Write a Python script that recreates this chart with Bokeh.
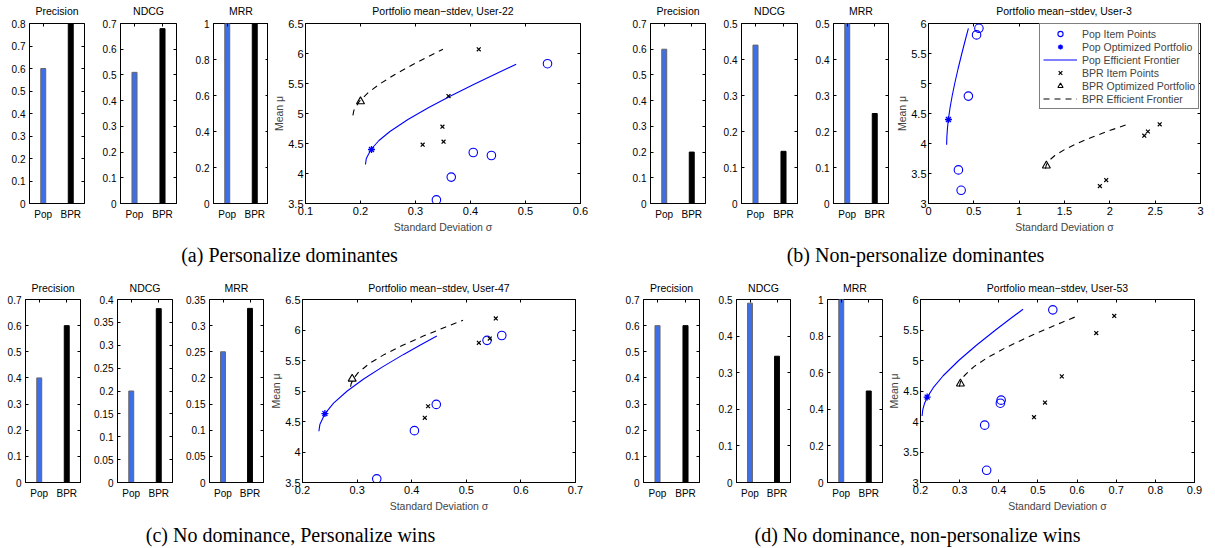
from bokeh.plotting import figure
from bokeh.layouts import row, column
from bokeh.models import (FactorRange, Range1d, LinearAxis, CategoricalAxis, FixedTicker,
                          CustomJSTickFormatter, Legend, LegendItem, Label)
from bokeh.embed import file_html
from bokeh.resources import INLINE

# ---------------- data ----------------
methods = ["Pop", "BPR"]
metrics = ["Precision", "NDCG", "MRR"]

# (a) User-22
a_precision = [0.6, 0.8]
a_ndcg = [0.51, 0.68]
a_mrr = [1.0, 1.0]
a_pop_sigma = [0.54, 0.405, 0.438, 0.365, 0.338]
a_pop_mu = [5.83, 4.35, 4.30, 3.94, 3.56]
a_pop_opt_sigma = [0.22]
a_pop_opt_mu = [4.40]
a_pop_front_sigma = [0.209, 0.2106, 0.219, 0.2336, 0.2535, 0.2862, 0.3241, 0.3655, 0.4094, 0.4550, 0.483]
a_pop_front_mu = [4.15, 4.25, 4.40, 4.55, 4.70, 4.90, 5.10, 5.30, 5.50, 5.70, 5.82]
a_bpr_sigma = [0.415, 0.36, 0.349, 0.351, 0.313]
a_bpr_mu = [6.07, 5.29, 4.78, 4.53, 4.48]
a_bpr_opt_sigma = [0.2]
a_bpr_opt_mu = [5.2]
a_bpr_front_sigma = [0.1862, 0.1879, 0.1976, 0.2141, 0.2363, 0.2626, 0.2920, 0.3236, 0.35]
a_bpr_front_mu = [4.97, 5.05, 5.20, 5.35, 5.50, 5.65, 5.80, 5.95, 6.07]

# (b) User-3
b_precision = [0.6, 0.2]
b_ndcg = [0.44, 0.145]
b_mrr = [0.5, 0.25]
b_pop_sigma = [0.556, 0.53, 0.44, 0.33, 0.36]
b_pop_mu = [5.92, 5.81, 4.79, 3.56, 3.22]
b_pop_opt_sigma = [0.22]
b_pop_opt_mu = [4.40]
b_pop_front_sigma = [0.2001, 0.2022, 0.2088, 0.219, 0.2382, 0.2619, 0.2892, 0.3270, 0.3676, 0.4102, 0.44]
b_pop_front_mu = [3.98, 4.10, 4.25, 4.40, 4.60, 4.80, 5.00, 5.25, 5.50, 5.75, 5.92]
b_bpr_sigma = [2.38, 2.42, 2.55, 1.89, 1.96]
b_bpr_mu = [4.13, 4.20, 4.32, 3.29, 3.39]
b_bpr_opt_sigma = [1.30]
b_bpr_opt_mu = [3.63]
b_bpr_front_sigma = [1.29, 1.3008, 1.333, 1.3939, 1.5013, 1.637, 1.7949, 1.9693, 2.195]
b_bpr_front_mu = [3.58, 3.65, 3.72, 3.80, 3.90, 4.00, 4.10, 4.20, 4.32]

# (c) User-47
c_precision = [0.4, 0.6]
c_ndcg = [0.2, 0.38]
c_mrr = [0.25, 0.333]
c_pop_sigma = [0.565, 0.538, 0.445, 0.405, 0.336]
c_pop_mu = [5.91, 5.83, 4.78, 4.35, 3.56]
c_pop_opt_sigma = [0.241]
c_pop_opt_mu = [4.63]
c_pop_front_sigma = [0.2300, 0.2318, 0.2413, 0.2569, 0.2819, 0.3126, 0.3474, 0.3852, 0.4151, 0.446]
c_pop_front_mu = [4.34, 4.45, 4.63, 4.80, 5.00, 5.20, 5.40, 5.60, 5.75, 5.90]
c_bpr_sigma = [0.554, 0.523, 0.543, 0.43, 0.424]
c_bpr_mu = [6.19, 5.79, 5.86, 4.75, 4.56]
c_bpr_opt_sigma = [0.291]
c_bpr_opt_mu = [5.2]
c_bpr_front_sigma = [0.2881, 0.2891, 0.2931, 0.3019, 0.3223, 0.3500, 0.3834, 0.4212, 0.4623, 0.494]
c_bpr_front_mu = [5.07, 5.12, 5.20, 5.30, 5.45, 5.60, 5.75, 5.90, 6.05, 6.16]

# (d) User-53
d_precision = [0.6, 0.6]
d_ndcg = [0.49, 0.345]
d_mrr = [1.0, 0.5]
d_pop_sigma = [0.538, 0.406, 0.404, 0.364, 0.369]
d_pop_mu = [5.83, 4.35, 4.30, 3.94, 3.20]
d_pop_opt_sigma = [0.217]
d_pop_opt_mu = [4.40]
d_pop_front_sigma = [0.2040, 0.2060, 0.2105, 0.2175, 0.2321, 0.2579, 0.2976, 0.3428, 0.3917, 0.4326, 0.462]
d_pop_front_mu = [4.09, 4.20, 4.30, 4.40, 4.55, 4.75, 5.00, 5.25, 5.50, 5.70, 5.84]
d_bpr_sigma = [0.695, 0.649, 0.561, 0.518, 0.490]
d_bpr_mu = [5.73, 5.45, 4.74, 4.31, 4.07]
d_bpr_opt_sigma = [0.302]
d_bpr_opt_mu = [4.62]
d_bpr_front_sigma = [0.2991, 0.3022, 0.3118, 0.3366, 0.3718, 0.4146, 0.4630, 0.5154, 0.5595, 0.605]
d_bpr_front_mu = [4.57, 4.65, 4.75, 4.90, 5.05, 5.20, 5.35, 5.50, 5.62, 5.74]

# y-axis tick labels of the bar charts
a_bar_ticks = [[0, 0.1, 0.2, 0.3, 0.4, 0.5, 0.6, 0.7, 0.8],
               [0, 0.1, 0.2, 0.3, 0.4, 0.5, 0.6, 0.7],
               [0, 0.2, 0.4, 0.6, 0.8, 1]]
b_bar_ticks = [[0, 0.1, 0.2, 0.3, 0.4, 0.5, 0.6, 0.7],
               [0, 0.1, 0.2, 0.3, 0.4, 0.5],
               [0, 0.1, 0.2, 0.3, 0.4, 0.5]]
c_bar_ticks = [[0, 0.1, 0.2, 0.3, 0.4, 0.5, 0.6, 0.7],
               [0, 0.05, 0.1, 0.15, 0.2, 0.25, 0.3, 0.35, 0.4],
               [0, 0.05, 0.1, 0.15, 0.2, 0.25, 0.3, 0.35]]
d_bar_ticks = [[0, 0.1, 0.2, 0.3, 0.4, 0.5, 0.6, 0.7],
               [0, 0.1, 0.2, 0.3, 0.4, 0.5],
               [0, 0.2, 0.4, 0.6, 0.8, 1]]

# scatter axis ticks
a_x_ticks = [0.1, 0.2, 0.3, 0.4, 0.5, 0.6]
a_y_ticks = [3.5, 4, 4.5, 5, 5.5, 6, 6.5]
b_x_ticks = [0, 0.5, 1, 1.5, 2, 2.5, 3]
b_y_ticks = [3, 3.5, 4, 4.5, 5, 5.5, 6]
c_x_ticks = [0.2, 0.3, 0.4, 0.5, 0.6, 0.7]
c_y_ticks = [3.5, 4, 4.5, 5, 5.5, 6, 6.5]
d_x_ticks = [0.2, 0.3, 0.4, 0.5, 0.6, 0.7, 0.8, 0.9]
d_y_ticks = [3, 3.5, 4, 4.5, 5, 5.5, 6]

users = ["User-22", "User-3", "User-47", "User-53"]
captions = ["(a) Personalize dominantes", "(b) Non-personalize dominantes",
            "(c) No dominance, Personalize wins", "(d) No dominance, non-personalize wins"]
legend_labels = ["Pop Item Points", "Pop Optimized Portfolio", "Pop Efficient Frontier",
                 "BPR Item Points", "BPR Optimized Portfolio", "BPR Efficient Frontier"]
x_label = "Standard Deviation σ"
y_label = "Mean μ"

# ---------------- style ----------------
FONT = "Liberation Sans"
POP_BAR = "#3f6fe8"
BAR_COLORS = [POP_BAR, "black"]
BAR_EDGES = ["#666666", "black"]
fmt_code = "return (Math.round(tick*10000)/10000).toString();"

# ---------------- layout geometry (pixels) ----------------
W = 1215
STRIP_TOP_H, ROW1_H, STRIP_MID_H, ROW2_H, STRIP_BOT_H = 17, 218, 59, 221, 33
row1_bounds = [0, 88, 180, 268, 618, 710, 802, 893, W]
row1_frames = [(29, 84), (120, 176), (213, 268), (305, 580), (650, 705), (741, 797), (833, 888), (927, 1200)]
row1_tb = [(4, 31)] * 4 + [(6, 28)] * 4
row2_bounds = [0, 84, 176, 265, 612, 703, 795, 885, W]
row2_frames = [(25, 80), (117, 172), (209, 263), (302, 575), (643, 699), (736, 790), (827, 882), (920, 1194)]
row2_tb = [(5, 33)] * 8


def style_axis(ax, font_size, standoff=4):
    ax.major_tick_in = 3
    ax.major_tick_out = 0
    ax.minor_tick_line_color = None
    ax.axis_line_color = "black"
    ax.major_tick_line_color = "black"
    ax.major_label_text_font = FONT
    ax.major_label_text_font_size = font_size
    ax.major_label_text_color = "black"
    ax.major_label_standoff = standoff


def mirror_axis(p, kind, side, ticks=None):
    if kind == "cat":
        ax = CategoricalAxis()
    else:
        ax = LinearAxis(ticker=FixedTicker(ticks=ticks))
    ax.major_tick_in = 3
    ax.major_tick_out = 0
    ax.minor_tick_line_color = None
    ax.axis_line_color = None
    ax.major_label_text_font_size = "0px"
    ax.major_label_standoff = 0
    ax.major_label_text_alpha = 0
    p.add_layout(ax, side)


def geo(bounds, frames, tb, i, height):
    w = bounds[i + 1] - bounds[i]
    l = frames[i][0] - bounds[i]
    r = bounds[i + 1] - frames[i][1]
    t, b = tb[i]
    return dict(width=w, height=height, min_border_left=l, min_border_right=r,
                min_border_top=t, min_border_bottom=b)


def base_fig(g, x_range, y_range):
    p = figure(x_range=x_range, y_range=y_range, output_backend="svg", toolbar_location=None, **g)
    p.xgrid.visible = False
    p.ygrid.visible = False
    p.outline_line_color = "black"
    p.outline_line_alpha = 1
    p.outline_line_width = 1
    p.background_fill_color = "white"
    p.border_fill_color = "white"
    return p


def bar_fig(g, vals, ticks):
    p = base_fig(g, FactorRange(factors=methods), Range1d(0, ticks[-1]))
    p.x_range.range_padding = 0
    p.vbar(x=methods, top=vals, width=0.18, fill_color=BAR_COLORS, line_color=BAR_EDGES, line_width=1)
    p.yaxis.ticker = FixedTicker(ticks=ticks)
    p.yaxis.formatter = CustomJSTickFormatter(code=fmt_code)
    style_axis(p.yaxis[0], "10px", 4)
    style_axis(p.xaxis[0], "10px", 5)
    p.xaxis.major_tick_line_color = None
    mirror_axis(p, "lin", "right", ticks)
    mirror_axis(p, "cat", "above")
    return p


def scat_fig(g, xt, yt, data, legend_loc=None):
    (ps, pm, pos, pom, pfs, pfm, bs, bm, bos, bom, bfs, bfm) = data
    p = base_fig(g, Range1d(xt[0], xt[-1]), Range1d(yt[0], yt[-1]))
    r3 = p.line(pfs, pfm, line_color="blue", line_width=1.1)
    r6 = p.line(bfs, bfm, line_color="black", line_width=1.1, line_dash="6 5")
    r1 = p.scatter(ps, pm, marker="circle", size=8.5, fill_color=None, line_color="blue", line_width=1.1)
    r2 = p.scatter(pos, pom, marker="asterisk", size=7, line_color="blue", line_width=1.3)
    r4 = p.scatter(bs, bm, marker="x", size=5.5, line_color="black", line_width=1.2)
    r5 = p.scatter(bos, bom, marker="triangle", size=8, fill_color=None, line_color="black", line_width=1.1)
    p.xaxis.ticker = FixedTicker(ticks=xt)
    p.yaxis.ticker = FixedTicker(ticks=yt)
    p.xaxis.formatter = CustomJSTickFormatter(code=fmt_code)
    p.yaxis.formatter = CustomJSTickFormatter(code=fmt_code)
    style_axis(p.xaxis[0], "11px", 3)
    style_axis(p.yaxis[0], "11px", 2)
    p.xaxis.axis_label = x_label
    p.yaxis.axis_label = y_label
    for ax in (p.xaxis[0], p.yaxis[0]):
        ax.axis_label_text_font = FONT
        ax.axis_label_text_font_size = "10.5px"
        ax.axis_label_text_font_style = "normal"
    p.xaxis.axis_label_standoff = 3
    p.yaxis.axis_label_standoff = 0
    mirror_axis(p, "lin", "right", yt)
    mirror_axis(p, "lin", "above", xt)
    if legend_loc is not None:
        items = [LegendItem(label=lab, renderers=[r]) for lab, r in
                 zip(legend_labels, [r1, r2, r3, r4, r5, r6])]
        leg = Legend(items=items, location=legend_loc)
        leg.label_text_font = FONT
        leg.label_text_font_size = "10.5px"
        leg.label_height = 13
        leg.glyph_height = 13
        leg.glyph_width = 34
        leg.label_standoff = 5
        leg.spacing = 0
        leg.padding = 3
        leg.margin = 0
        leg.border_line_color = "black"
        leg.border_line_width = 1
        leg.background_fill_alpha = 1
        p.add_layout(leg)
    return p


def strip_fig(height):
    p = figure(width=W, height=height, x_range=Range1d(0, W), y_range=Range1d(0, height),
               output_backend="svg", toolbar_location=None, x_axis_type=None, y_axis_type=None,
               min_border=0)
    p.outline_line_color = None
    p.xgrid.visible = False
    p.ygrid.visible = False
    return p


def strip_text(p, text, x, y, font, size):
    p.add_layout(Label(x=x, y=y, x_units="screen", y_units="screen", text=text,
                       text_align="center", text_baseline="middle",
                       text_font=font, text_font_size=size, text_color="black"))


# ---------------- build ----------------
scatter_data = {
    "a": (a_pop_sigma, a_pop_mu, a_pop_opt_sigma, a_pop_opt_mu, a_pop_front_sigma, a_pop_front_mu,
          a_bpr_sigma, a_bpr_mu, a_bpr_opt_sigma, a_bpr_opt_mu, a_bpr_front_sigma, a_bpr_front_mu),
    "b": (b_pop_sigma, b_pop_mu, b_pop_opt_sigma, b_pop_opt_mu, b_pop_front_sigma, b_pop_front_mu,
          b_bpr_sigma, b_bpr_mu, b_bpr_opt_sigma, b_bpr_opt_mu, b_bpr_front_sigma, b_bpr_front_mu),
    "c": (c_pop_sigma, c_pop_mu, c_pop_opt_sigma, c_pop_opt_mu, c_pop_front_sigma, c_pop_front_mu,
          c_bpr_sigma, c_bpr_mu, c_bpr_opt_sigma, c_bpr_opt_mu, c_bpr_front_sigma, c_bpr_front_mu),
    "d": (d_pop_sigma, d_pop_mu, d_pop_opt_sigma, d_pop_opt_mu, d_pop_front_sigma, d_pop_front_mu,
          d_bpr_sigma, d_bpr_mu, d_bpr_opt_sigma, d_bpr_opt_mu, d_bpr_front_sigma, d_bpr_front_mu),
}
bar_vals = {"a": [a_precision, a_ndcg, a_mrr], "b": [b_precision, b_ndcg, b_mrr],
            "c": [c_precision, c_ndcg, c_mrr], "d": [d_precision, d_ndcg, d_mrr]}
bar_ticks = {"a": a_bar_ticks, "b": b_bar_ticks, "c": c_bar_ticks, "d": d_bar_ticks}
scat_ticks = {"a": (a_x_ticks, a_y_ticks), "b": (b_x_ticks, b_y_ticks),
              "c": (c_x_ticks, c_y_ticks), "d": (d_x_ticks, d_y_ticks)}


def build_row(panels, bounds, frames, tb, height, legend_panel):
    figs = []
    i = 0
    for k in panels:
        for j in range(3):
            figs.append(bar_fig(geo(bounds, frames, tb, i, height), bar_vals[k][j], bar_ticks[k][j]))
            i += 1
        xt, yt = scat_ticks[k]
        figs.append(scat_fig(geo(bounds, frames, tb, i, height), xt, yt, scatter_data[k],
                             legend_loc=(111, 94) if k == legend_panel else None))
        i += 1
    return row(*figs, spacing=0)


def panel_titles(strip, frames, y, user_a, user_b):
    titles = metrics + ["Portfolio mean−stdev, " + user_a] + metrics + ["Portfolio mean−stdev, " + user_b]
    for t, (fl, fr) in zip(titles, frames):
        strip_text(strip, t, (fl + fr) / 2, y, FONT, "10.5px")


strip_top = strip_fig(STRIP_TOP_H)
panel_titles(strip_top, row1_frames, 7, users[0], users[1])

row1 = build_row(["a", "b"], row1_bounds, row1_frames, row1_tb, ROW1_H, "b")

strip_mid = strip_fig(STRIP_MID_H)
strip_text(strip_mid, captions[0], 289, 40, "Liberation Serif", "20px")
strip_text(strip_mid, captions[1], 915, 40, "Liberation Serif", "20px")
panel_titles(strip_mid, row2_frames, 7, users[2], users[3])

row2 = build_row(["c", "d"], row2_bounds, row2_frames, row2_tb, ROW2_H, None)

strip_bot = strip_fig(STRIP_BOT_H)
strip_text(strip_bot, captions[2], 290, 14, "Liberation Serif", "20px")
strip_text(strip_bot, captions[3], 917, 14, "Liberation Serif", "20px")

layout = column(strip_top, row1, strip_mid, row2, strip_bot, spacing=0)

open("out.html", "w").write(file_html(layout, INLINE))
